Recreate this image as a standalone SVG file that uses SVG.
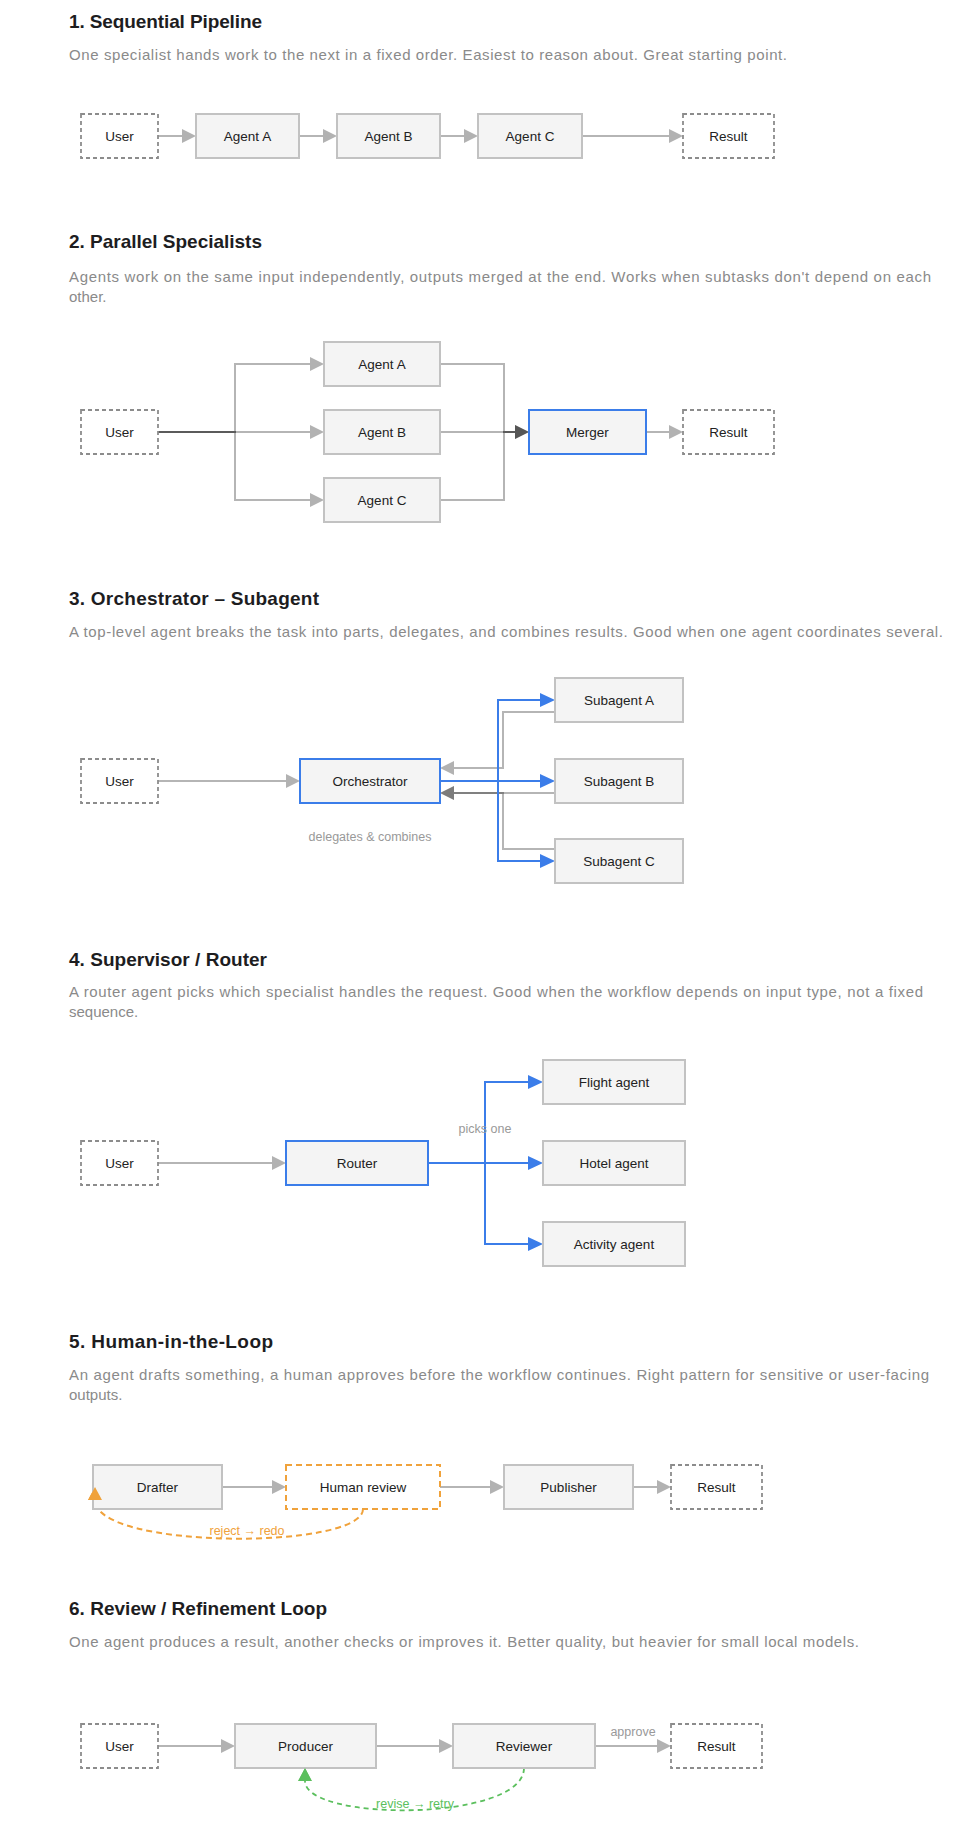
<svg xmlns="http://www.w3.org/2000/svg" width="956" height="1824" viewBox="0 0 956 1824">
<style>
text{font-family:"Liberation Sans",Arial,Helvetica,sans-serif}
.title{font-size:19px;font-weight:700;fill:#1d1d1f}
.desc{font-size:15px;fill:#8a8a8a}
.lbl{font-size:13.5px;fill:#222;text-anchor:middle}
.small{font-size:12.5px;fill:#999;text-anchor:middle}
.box{fill:#f4f4f4;stroke:#c2c2c2;stroke-width:2}
.blue{fill:#f4f4f4;stroke:#3b7de9;stroke-width:2}
.dash{fill:#fff;stroke:#8c8c8c;stroke-width:1.8;stroke-dasharray:4 3}
.odash{fill:#fff;stroke:#f0a23b;stroke-width:2;stroke-dasharray:6 4}
.g{fill:none;stroke:#000;stroke-opacity:0.29;stroke-width:2;marker-end:url(#ag)}
.b{fill:none;stroke:#3b7de9;stroke-width:2;marker-end:url(#ab)}
.o{fill:none;stroke:#f0a23b;stroke-width:2;stroke-dasharray:6 4;marker-end:url(#ao)}
.gr{fill:none;stroke:#5bbf5d;stroke-width:1.8;stroke-dasharray:5 4;marker-end:url(#agr)}
</style>
<defs>
<marker id="ag" markerUnits="userSpaceOnUse" markerWidth="14" markerHeight="14" refX="0" refY="7" orient="auto" overflow="visible"><path d="M0,0 L14,7 L0,14 z" fill="#000" fill-opacity="0.3"/></marker>
<marker id="ab" markerUnits="userSpaceOnUse" markerWidth="15" markerHeight="14" refX="0" refY="7" orient="auto" overflow="visible"><path d="M0,0 L15,7 L0,14 z" fill="#3b7de9"/></marker>
<marker id="ao" markerUnits="userSpaceOnUse" markerWidth="13" markerHeight="14" refX="0" refY="7" orient="auto" overflow="visible"><path d="M0,0 L13,7 L0,14 z" fill="#f0a23b"/></marker>
<marker id="agr" markerUnits="userSpaceOnUse" markerWidth="13" markerHeight="14" refX="0" refY="7" orient="auto" overflow="visible"><path d="M0,0 L13,7 L0,14 z" fill="#5bbf5d"/></marker>
</defs>
<rect width="956" height="1824" fill="#fff"/>

<g id="headings">
<text class="title" x="69" y="28" textLength="193">1. Sequential Pipeline</text>
<text class="desc" x="69" y="60" textLength="718">One specialist hands work to the next in a fixed order. Easiest to reason about. Great starting point.</text>
<text class="title" x="69" y="248" textLength="193">2. Parallel Specialists</text>
<text class="desc" x="69" y="282" textLength="862">Agents work on the same input independently, outputs merged at the end. Works when subtasks don't depend on each</text>
<text class="desc" x="69" y="302">other.</text>
<text class="title" x="69" y="605" textLength="250">3. Orchestrator – Subagent</text>
<text class="desc" x="69" y="637" textLength="874">A top-level agent breaks the task into parts, delegates, and combines results. Good when one agent coordinates several.</text>
<text class="title" x="69" y="966" textLength="198">4. Supervisor / Router</text>
<text class="desc" x="69" y="997" textLength="854">A router agent picks which specialist handles the request. Good when the workflow depends on input type, not a fixed</text>
<text class="desc" x="69" y="1017">sequence.</text>
<text class="title" x="69" y="1348" textLength="204">5. Human-in-the-Loop</text>
<text class="desc" x="69" y="1380" textLength="860">An agent drafts something, a human approves before the workflow continues. Right pattern for sensitive or user-facing</text>
<text class="desc" x="69" y="1400">outputs.</text>
<text class="title" x="69" y="1615" textLength="258">6. Review / Refinement Loop</text>
<text class="desc" x="69" y="1647" textLength="790">One agent produces a result, another checks or improves it. Better quality, but heavier for small local models.</text>
</g>

<g id="connectors">
<!-- section 1 -->
<path class="g" d="M158,136 H182"/>
<path class="g" d="M299,136 H323"/>
<path class="g" d="M440,136 H464"/>
<path class="g" d="M582,136 H669"/>
<!-- section 2 -->
<path class="g" d="M158,432 H235 V364 H310"/>
<path class="g" d="M158,432 H310"/>
<path class="g" d="M158,432 H235 V500 H310"/>
<path class="g" d="M440,364 H504 V432 H515"/>
<path class="g" d="M440,432 H515"/>
<path class="g" d="M440,500 H504 V432 H515"/>
<path class="g" d="M646,432 H669"/>
<!-- section 3 -->
<path class="g" d="M158,781 H286"/>
<path class="g" d="M555,712 H503 V768 H454"/>
<path class="g" d="M555,793 H454"/>
<path class="g" d="M555,849 H503 V793 H454"/>
<path class="b" d="M440,781 H498 V700 H540"/>
<path class="b" d="M440,781 H540"/>
<path class="b" d="M440,781 H498 V861 H540"/>
<!-- section 4 -->
<path class="g" d="M158,1163 H272"/>
<path class="b" d="M428,1163 H485 V1082 H528"/>
<path class="b" d="M428,1163 H528"/>
<path class="b" d="M428,1163 H485 V1244 H528"/>
<!-- section 5 -->
<path class="g" d="M222,1487 H272"/>
<path class="g" d="M440,1487 H490"/>
<path class="g" d="M633,1487 H657"/>
<path class="o" d="M363,1509 C363,1550 95,1550 95,1500"/>
<!-- section 6 -->
<path class="g" d="M158,1746 H221"/>
<path class="g" d="M376,1746 H439"/>
<path class="g" d="M595,1746 H657"/>
<path class="gr" d="M524,1768 C524,1822 305,1822 305,1781"/>
</g>

<g id="edge-labels">
<text class="small" x="370" y="841">delegates &amp; combines</text>
<text class="small" x="485" y="1133">picks one</text>
<text class="small" x="247" y="1535" style="fill:#f0a23b">reject → redo</text>
<text class="small" x="633" y="1736">approve</text>
<text class="small" x="415" y="1808" style="fill:#5bbf5d">revise → retry</text>
</g>

<!-- Section 1 nodes -->
<g id="s1-user"><rect class="dash" x="81" y="114" width="77" height="44"/><text class="lbl" x="119.5" y="141">User</text></g>
<g id="s1-agent-a"><rect class="box" x="196" y="114" width="103" height="44"/><text class="lbl" x="247.5" y="141">Agent A</text></g>
<g id="s1-agent-b"><rect class="box" x="337" y="114" width="103" height="44"/><text class="lbl" x="388.5" y="141">Agent B</text></g>
<g id="s1-agent-c"><rect class="box" x="478" y="114" width="104" height="44"/><text class="lbl" x="530" y="141">Agent C</text></g>
<g id="s1-result"><rect class="dash" x="683" y="114" width="91" height="44"/><text class="lbl" x="728.5" y="141">Result</text></g>

<!-- Section 2 nodes -->
<g id="s2-user"><rect class="dash" x="81" y="410" width="77" height="44"/><text class="lbl" x="119.5" y="437">User</text></g>
<g id="s2-agent-a"><rect class="box" x="324" y="342" width="116" height="44"/><text class="lbl" x="382" y="369">Agent A</text></g>
<g id="s2-agent-b"><rect class="box" x="324" y="410" width="116" height="44"/><text class="lbl" x="382" y="437">Agent B</text></g>
<g id="s2-agent-c"><rect class="box" x="324" y="478" width="116" height="44"/><text class="lbl" x="382" y="505">Agent C</text></g>
<g id="s2-merger"><rect class="blue" x="529" y="410" width="117" height="44"/><text class="lbl" x="587.5" y="437">Merger</text></g>
<g id="s2-result"><rect class="dash" x="683" y="410" width="91" height="44"/><text class="lbl" x="728.5" y="437">Result</text></g>

<!-- Section 3 nodes -->
<g id="s3-user"><rect class="dash" x="81" y="759" width="77" height="44"/><text class="lbl" x="119.5" y="786">User</text></g>
<g id="s3-orchestrator"><rect class="blue" x="300" y="759" width="140" height="44"/><text class="lbl" x="370" y="786">Orchestrator</text></g>
<g id="s3-sub-a"><rect class="box" x="555" y="678" width="128" height="44"/><text class="lbl" x="619" y="705">Subagent A</text></g>
<g id="s3-sub-b"><rect class="box" x="555" y="759" width="128" height="44"/><text class="lbl" x="619" y="786">Subagent B</text></g>
<g id="s3-sub-c"><rect class="box" x="555" y="839" width="128" height="44"/><text class="lbl" x="619" y="866">Subagent C</text></g>

<!-- Section 4 nodes -->
<g id="s4-user"><rect class="dash" x="81" y="1141" width="77" height="44"/><text class="lbl" x="119.5" y="1168">User</text></g>
<g id="s4-router"><rect class="blue" x="286" y="1141" width="142" height="44"/><text class="lbl" x="357" y="1168">Router</text></g>
<g id="s4-flight"><rect class="box" x="543" y="1060" width="142" height="44"/><text class="lbl" x="614" y="1087">Flight agent</text></g>
<g id="s4-hotel"><rect class="box" x="543" y="1141" width="142" height="44"/><text class="lbl" x="614" y="1168">Hotel agent</text></g>
<g id="s4-activity"><rect class="box" x="543" y="1222" width="142" height="44"/><text class="lbl" x="614" y="1249">Activity agent</text></g>

<!-- Section 5 nodes -->
<g id="s5-drafter"><rect class="box" x="93" y="1465" width="129" height="44"/><text class="lbl" x="157.5" y="1492">Drafter</text></g>
<g id="s5-human"><rect class="odash" x="286" y="1465" width="154" height="44"/><text class="lbl" x="363" y="1492">Human review</text></g>
<g id="s5-publisher"><rect class="box" x="504" y="1465" width="129" height="44"/><text class="lbl" x="568.5" y="1492">Publisher</text></g>
<g id="s5-result"><rect class="dash" x="671" y="1465" width="91" height="44"/><text class="lbl" x="716.5" y="1492">Result</text></g>

<!-- Section 6 nodes -->
<g id="s6-user"><rect class="dash" x="81" y="1724" width="77" height="44"/><text class="lbl" x="119.5" y="1751">User</text></g>
<g id="s6-producer"><rect class="box" x="235" y="1724" width="141" height="44"/><text class="lbl" x="305.5" y="1751">Producer</text></g>
<g id="s6-reviewer"><rect class="box" x="453" y="1724" width="142" height="44"/><text class="lbl" x="524" y="1751">Reviewer</text></g>
<g id="s6-result"><rect class="dash" x="671" y="1724" width="91" height="44"/><text class="lbl" x="716.5" y="1751">Result</text></g>

<!-- orange arrowhead drawn over drafter edge -->
<path d="M88,1500 L95,1487 L102,1500 z" fill="#f0a23b"/>
<path d="M298.5,1781 L305,1768 L311.5,1781 z" fill="#5bbf5d"/>
</svg>
